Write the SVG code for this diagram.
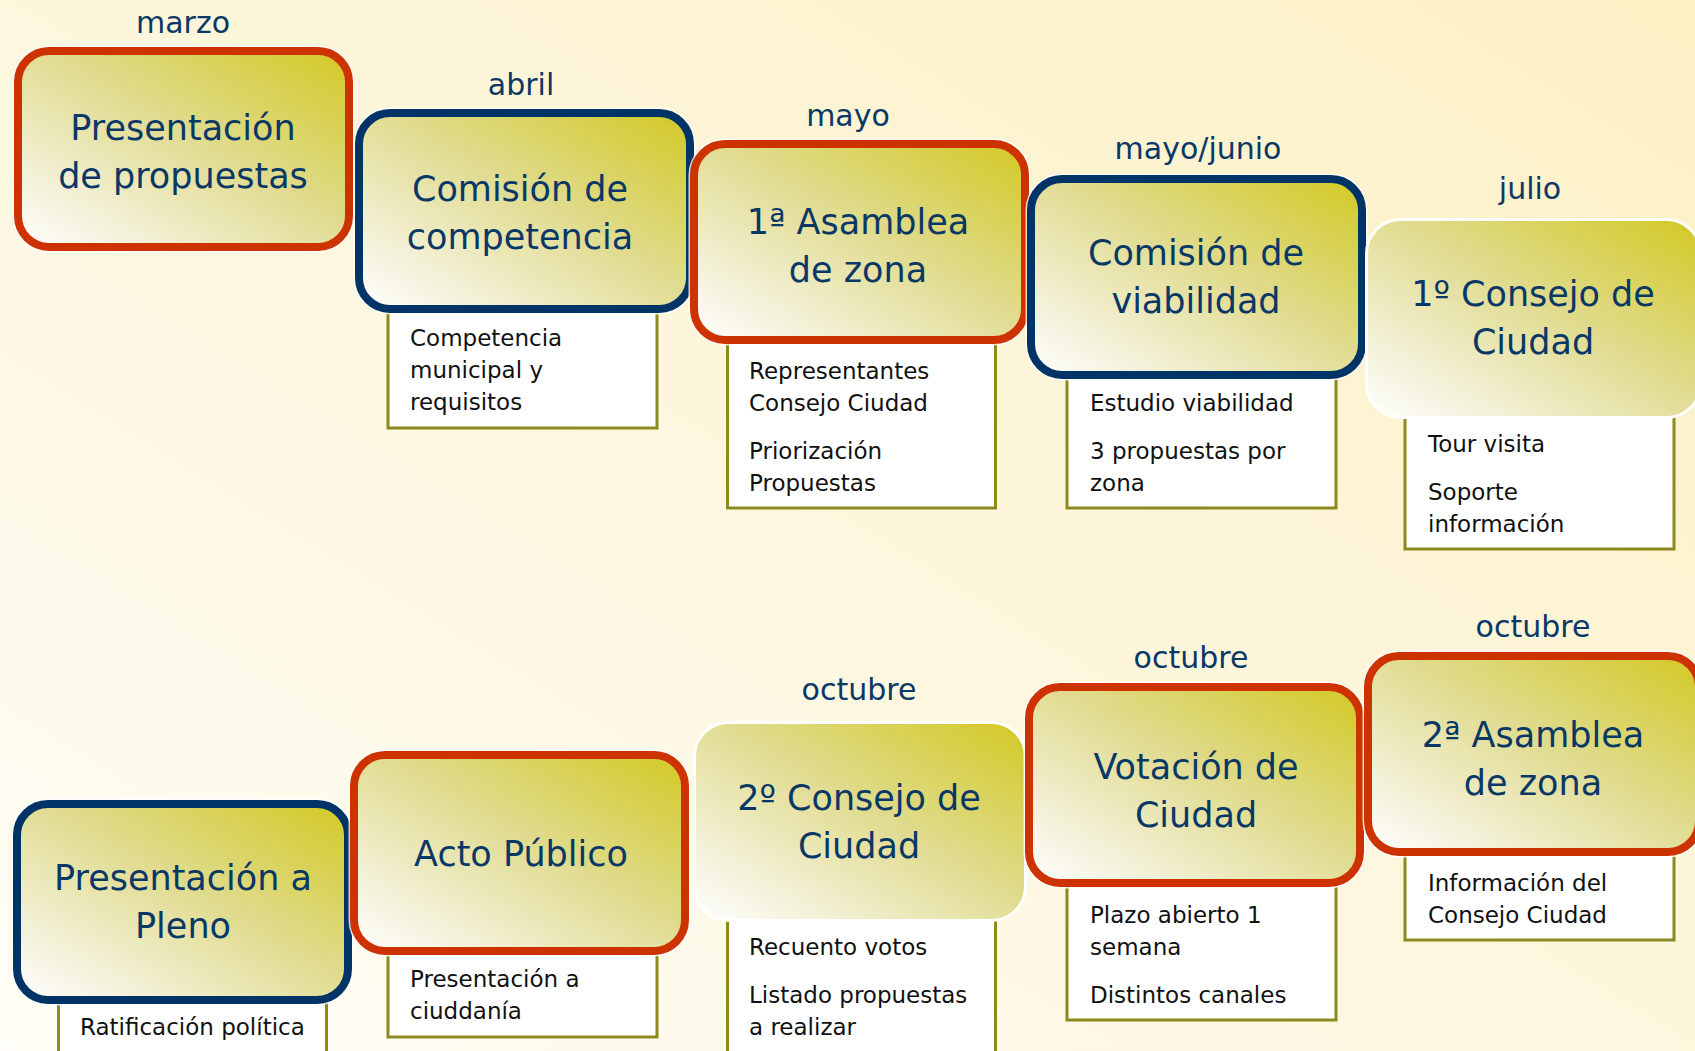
<svg xmlns="http://www.w3.org/2000/svg" width="1695" height="1051" viewBox="0 0 1695 1051">
<defs>
<linearGradient id="bg" x1="1" y1="0" x2="0" y2="1">
<stop offset="0" stop-color="#fcf0c4"/>
<stop offset="0.55" stop-color="#fdf7e0"/>
<stop offset="1" stop-color="#fffdf7"/>
</linearGradient>
<linearGradient id="nf" x1="1" y1="0" x2="0" y2="1">
<stop offset="0" stop-color="#d2c923"/>
<stop offset="0.45" stop-color="#e0db8e"/>
<stop offset="0.8" stop-color="#f3f1d8"/>
<stop offset="1" stop-color="#ffffff"/>
</linearGradient>
<style>
.node rect.h{fill:none;stroke:#ffffff;stroke-width:11;stroke-opacity:0.8}
.node rect.b{fill:url(#nf);stroke-width:8}
.red rect.b{stroke:#cc3300}
.blue rect.b{stroke:#003366}
.white rect.b{stroke:#ffffff;stroke-width:3}
.t{font-family:"DejaVu Sans",Verdana,sans-serif;font-size:35px;fill:#0a3866;text-anchor:middle}
.m{font-family:"DejaVu Sans",Verdana,sans-serif;font-size:30px;fill:#0a3866;text-anchor:middle}
.d rect{fill:#ffffff;stroke:#8c8a1c;stroke-width:3}
.d text{font-family:"DejaVu Sans",Verdana,sans-serif;font-size:23px;fill:#111111}
</style>
</defs>
<rect x="0" y="0" width="1695" height="1051" fill="url(#bg)"/>

<g id="connectors"/>

<!-- detail boxes -->
<g id="detail-competencia" class="d"><rect x="388" y="290" width="269" height="138"/>
<text x="410" y="346">Competencia</text><text x="410" y="378">municipal y</text><text x="410" y="410">requisitos</text></g>
<g id="detail-asamblea1" class="d"><rect x="727.5" y="320" width="268" height="188"/>
<text x="749" y="379">Representantes</text><text x="749" y="411">Consejo Ciudad</text><text x="749" y="459">Priorización</text><text x="749" y="491">Propuestas</text></g>
<g id="detail-viabilidad" class="d"><rect x="1067" y="350" width="269" height="158"/>
<text x="1090" y="411">Estudio viabilidad</text><text x="1090" y="459">3 propuestas por</text><text x="1090" y="491">zona</text></g>
<g id="detail-consejo1" class="d"><rect x="1405" y="390" width="269" height="159"/>
<text x="1428" y="452">Tour visita</text><text x="1428" y="500">Soporte</text><text x="1428" y="532">información</text></g>
<g id="detail-pleno" class="d"><rect x="58.5" y="960" width="268" height="120"/>
<text x="80" y="1035">Ratificación política</text></g>
<g id="detail-acto" class="d"><rect x="388" y="900" width="269" height="137"/>
<text x="410" y="987">Presentación a</text><text x="410" y="1019">ciuddanía</text></g>
<g id="detail-consejo2" class="d"><rect x="727.5" y="880" width="268" height="200"/>
<text x="749" y="955">Recuento votos</text><text x="749" y="1003">Listado propuestas</text><text x="749" y="1035">a realizar</text></g>
<g id="detail-votacion" class="d"><rect x="1067" y="850" width="269" height="170"/>
<text x="1090" y="923">Plazo abierto 1</text><text x="1090" y="955">semana</text><text x="1090" y="1003">Distintos canales</text></g>
<g id="detail-asamblea2" class="d"><rect x="1405" y="820" width="269" height="120"/>
<text x="1428" y="891">Información del</text><text x="1428" y="923">Consejo Ciudad</text></g>

<!-- nodes top row -->
<g id="node-presentacion-propuestas" class="node red">
<text class="m" x="183" y="33">marzo</text>
<rect class="h" x="18" y="51" width="331" height="196" rx="31"/>
<rect class="b" x="18" y="51" width="331" height="196" rx="31"/>
<text class="t" x="183" y="140">Presentación</text><text class="t" x="183" y="188">de propuestas</text></g>
<g id="node-comision-competencia" class="node blue">
<text class="m" x="521" y="95">abril</text>
<rect class="h" x="359" y="113" width="331" height="196" rx="31"/>
<rect class="b" x="359" y="113" width="331" height="196" rx="31"/>
<text class="t" x="520" y="201">Comisión de</text><text class="t" x="520" y="249">competencia</text></g>
<g id="node-asamblea1" class="node red">
<text class="m" x="848" y="126">mayo</text>
<rect class="h" x="694" y="144" width="331" height="196" rx="31"/>
<rect class="b" x="694" y="144" width="331" height="196" rx="31"/>
<text class="t" x="858" y="234">1ª Asamblea</text><text class="t" x="858" y="282">de zona</text></g>
<g id="node-comision-viabilidad" class="node blue">
<text class="m" x="1198" y="159">mayo/junio</text>
<rect class="h" x="1031" y="179" width="331" height="196" rx="31"/>
<rect class="b" x="1031" y="179" width="331" height="196" rx="31"/>
<text class="t" x="1196" y="265">Comisión de</text><text class="t" x="1196" y="313">viabilidad</text></g>
<g id="node-consejo1" class="node white">
<text class="m" x="1530" y="199">julio</text>
<rect class="b" x="1366.5" y="219.5" width="334" height="198" rx="34"/>
<text class="t" x="1533" y="306">1º Consejo de</text><text class="t" x="1533" y="354">Ciudad</text></g>

<!-- nodes bottom row -->
<g id="node-pleno" class="node blue">
<rect class="h" x="17" y="804" width="331" height="196" rx="31"/>
<rect class="b" x="17" y="804" width="331" height="196" rx="31"/>
<text class="t" x="183" y="890">Presentación a</text><text class="t" x="183" y="938">Pleno</text></g>
<g id="node-acto" class="node red">
<rect class="h" x="354" y="755" width="331" height="196" rx="31"/>
<rect class="b" x="354" y="755" width="331" height="196" rx="31"/>
<text class="t" x="521" y="866">Acto Público</text></g>
<g id="node-consejo2" class="node white">
<text class="m" x="859" y="700">octubre</text>
<rect class="b" x="694.5" y="722.5" width="331" height="198" rx="34"/>
<text class="t" x="859" y="810">2º Consejo de</text><text class="t" x="859" y="858">Ciudad</text></g>
<g id="node-votacion" class="node red">
<text class="m" x="1191" y="668">octubre</text>
<rect class="h" x="1029" y="687" width="331" height="196" rx="31"/>
<rect class="b" x="1029" y="687" width="331" height="196" rx="31"/>
<text class="t" x="1196" y="779">Votación de</text><text class="t" x="1196" y="827">Ciudad</text></g>
<g id="node-asamblea2" class="node red">
<text class="m" x="1533" y="637">octubre</text>
<rect class="h" x="1368" y="656" width="331" height="196" rx="31"/>
<rect class="b" x="1368" y="656" width="331" height="196" rx="31"/>
<text class="t" x="1533" y="747">2ª Asamblea</text><text class="t" x="1533" y="795">de zona</text></g>
</svg>
